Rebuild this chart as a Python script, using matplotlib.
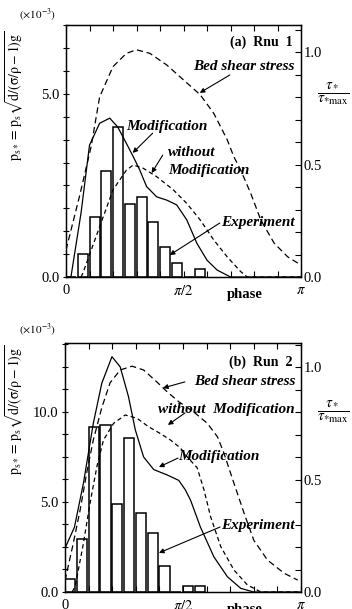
import numpy as np
import matplotlib
matplotlib.use("Agg")
import matplotlib.pyplot as plt
from matplotlib.ticker import MultipleLocator

plt.rcParams['font.family'] = ['Liberation Serif', 'DejaVu Serif']
plt.rcParams['mathtext.fontset'] = 'stix'

PI = np.pi
W, H = 352, 609

# Experiment histograms: bins of width pi/20 starting at phase 0
bin_width = PI / 20
bin_index = np.arange(12)
exp_a = [0, 0.62, 1.65, 2.89, 4.11, 1.99, 2.18, 1.51, 0.82, 0.37, 0, 0.21]
exp_b = [0.74, 2.92, 9.18, 9.30, 4.86, 8.54, 4.41, 3.29, 1.43, 0, 0.33, 0.33]

# Run 1 curves (phase in units of pi)
mod_a_x = [0, 0.021, 0.064, 0.10, 0.143, 0.186, 0.22, 0.257, 0.286, 0.314, 0.343,
           0.386, 0.429, 0.471, 0.514, 0.557, 0.60, 0.643, 0.70, 1.0]
mod_a_y = [0, 0, 1.75, 3.6, 4.20, 4.34, 4.1, 3.65, 3.29, 2.92, 2.47,
           2.19, 2.10, 1.97, 1.56, 0.92, 0.46, 0.19, 0, 0]

wo_a_x = [0.064, 0.0714, 0.143, 0.2, 0.257, 0.286, 0.329, 0.386, 0.457, 0.514,
          0.571, 0.629, 0.686, 0.743, 0.771, 1.0]
wo_a_y = [0, 0.10, 1.37, 2.38, 2.92, 3.06, 2.97, 2.74, 2.38, 2.01,
          1.56, 1.01, 0.55, 0.15, 0, 0]

bed_a_x = [0, 0.057, 0.107, 0.143, 0.2, 0.257, 0.3, 0.357, 0.429, 0.5, 0.571,
           0.629, 0.686, 0.714, 0.743, 0.786, 0.829, 0.886, 0.943, 1.0]
bed_a_y = [0.12, 0.357, 0.58, 0.80, 0.935, 0.994, 1.01, 0.994, 0.942, 0.876, 0.81,
           0.727, 0.61, 0.535, 0.476, 0.372, 0.253, 0.15, 0.09, 0.053]

# Run 2 curves
mod_b_x = [0, 0.04, 0.078, 0.12, 0.156, 0.199, 0.234, 0.269, 0.298, 0.333, 0.376,
           0.433, 0.482, 0.51, 0.532, 0.574, 0.631, 0.688, 0.745, 0.80, 1.0]
mod_b_y = [2.43, 3.6, 6.04, 9.37, 11.6, 13.07, 12.5, 10.85, 9.0, 7.5, 6.8,
           6.5, 6.2, 5.67, 5.1, 3.6, 1.95, 0.85, 0.2, 0, 0]

wo_b_x = [0.03, 0.043, 0.078, 0.106, 0.135, 0.163, 0.206, 0.255, 0.305, 0.354, 0.404,
          0.447, 0.489, 0.518, 0.56, 0.589, 0.617, 0.66, 0.716, 0.773, 0.83, 1.0]
wo_b_y = [0, 0.3, 2.7, 4.93, 6.96, 8.44, 9.37, 9.83, 9.65, 9.18, 8.8,
          8.44, 8.0, 7.5, 6.9, 5.67, 4.18, 2.52, 1.22, 0.39, 0, 0]

bed_b_x = [0, 0.035, 0.064, 0.092, 0.12, 0.156, 0.191, 0.234, 0.284, 0.333, 0.383,
           0.433, 0.482, 0.546, 0.603, 0.646, 0.674, 0.716, 0.759, 0.80, 0.858,
           0.929, 0.986]
bed_b_y = [0.05, 0.216, 0.364, 0.53, 0.676, 0.82, 0.93, 0.987, 1.004, 0.987, 0.94,
           0.89, 0.846, 0.80, 0.75, 0.69, 0.616, 0.483, 0.35, 0.23, 0.142,
           0.083, 0.053]


def px(x, y):
    """pixel position (from top-left) to figure fraction"""
    return x / W, 1 - y / H


def draw_panel(ax, exp, mod, wo, bed, ymax_l, ymax_r, lticks, lminor):
    ax.bar(bin_index * bin_width, exp, width=0.86 * bin_width, align='edge',
           facecolor='white', edgecolor='black', linewidth=1.1, zorder=1)
    ax.plot(np.array(mod[0]) * PI, mod[1], color='black', lw=0.9, zorder=3)
    ax.plot(np.array(wo[0]) * PI, wo[1], color='black', lw=0.9,
            dashes=(3.5, 2.5), zorder=3)
    ax.set_xlim(0, PI)
    ax.set_ylim(0, ymax_l)
    ax.set_yticks(lticks)
    ax.set_yticklabels([f"{t:.1f}" for t in lticks])
    ax.yaxis.set_minor_locator(MultipleLocator(lminor))
    ax.set_xticks([0, PI / 2, PI])
    ax.set_xticklabels(['0', r'$\pi/2$', r'$\pi$'])
    ax.xaxis.set_minor_locator(MultipleLocator(PI / 10))
    ax.tick_params(axis='x', which='both', direction='in', top=True,
                   length=4, width=0.8, labelsize=10.5, pad=5)
    ax.tick_params(axis='y', which='both', direction='inout', length=5,
                   width=0.8, labelsize=10.5, pad=2)
    for s in ax.spines.values():
        s.set_linewidth(1.0)
    ax.text(0.76 * PI, -0.045, 'phase', transform=ax.get_xaxis_transform(),
            ha='center', va='top', fontsize=10.5, fontweight='bold')

    ax2 = ax.twinx()
    ax2.plot(np.array(bed[0]) * PI, bed[1], color='black', lw=0.9,
             dashes=(5, 3), zorder=3)
    ax2.set_ylim(0, ymax_r)
    ax2.set_yticks([0, 0.5, 1.0])
    ax2.set_yticklabels(['0.0', '0.5', '1.0'])
    ax2.yaxis.set_minor_locator(MultipleLocator(0.1))
    ax2.tick_params(axis='y', which='both', direction='in', length=4,
                    width=0.8, labelsize=10.5, pad=2)
    return ax2


fig = plt.figure(figsize=(W / 100, H / 100), dpi=100)

ax_a = fig.add_axes([66 / W, 1 - 277 / H, 235 / W, 252 / H])
draw_panel(ax_a, exp_a, (mod_a_x, mod_a_y), (wo_a_x, wo_a_y),
           (bed_a_x, bed_a_y), 6.885, 1.12, [0, 5], 0.625)

ax_b = fig.add_axes([65 / W, 1 - 592 / H, 236 / W, 249 / H])
draw_panel(ax_b, exp_b, (mod_b_x, mod_b_y), (wo_b_x, wo_b_y),
           (bed_b_x, bed_b_y), 13.83, 1.107, [0, 5, 10], 1.25)

bi = dict(fontsize=11, fontweight='bold', fontstyle='italic')
arrow = dict(arrowstyle='-|>', color='black', lw=0.8,
             mutation_scale=7, shrinkA=0, shrinkB=0)

# panel (a) annotations
ax_a.text(3.035, 6.42, '(a)  Rnu  1', ha='right', va='center',
          fontsize=10, fontweight='bold')
ax_a.text(3.06, 5.74, 'Bed shear stress', ha='right', va='center', **bi)
ax_a.annotate('', xy=(1.788, 5.03), xytext=(2.19, 5.52), arrowprops=arrow)
ax_a.text(1.346, 4.10, 'Modification', ha='center', va='center', **bi)
ax_a.annotate('', xy=(0.891, 3.39), xytext=(1.159, 3.93), arrowprops=arrow)
ax_a.text(1.681, 3.39, 'without', ha='center', va='center', **bi)
ax_a.text(1.909, 2.92, 'Modification', ha='center', va='center', **bi)
ax_a.annotate('', xy=(1.145, 2.84), xytext=(1.293, 3.33), arrowprops=arrow)
ax_a.text(2.565, 1.50, 'Experiment', ha='center', va='center', **bi)
ax_a.annotate('', xy=(1.387, 0.60), xytext=(2.056, 1.475), arrowprops=arrow)

# panel (b) annotations
ax_b.text(0.966 * PI, 12.78, '(b)  Run  2', ha='right', va='center',
          fontsize=10, fontweight='bold')
ax_b.text(0.975 * PI, 11.67, 'Bed shear stress', ha='right', va='center', **bi)
ax_b.annotate('', xy=(0.415 * PI, 11.33), xytext=(0.508 * PI, 11.67),
              arrowprops=arrow)
ax_b.text(0.975 * PI, 10.11, 'without  Modification', ha='right',
          va='center', **bi)
ax_b.annotate('', xy=(0.436 * PI, 9.28), xytext=(0.508 * PI, 9.94),
              arrowprops=arrow)
ax_b.text(0.6525 * PI, 7.5, 'Modification', ha='center', va='center', **bi)
ax_b.annotate('', xy=(0.398 * PI, 6.94), xytext=(0.479 * PI, 7.44),
              arrowprops=arrow)
ax_b.text(0.818 * PI, 3.72, 'Experiment', ha='center', va='center', **bi)
ax_b.annotate('', xy=(0.398 * PI, 2.17), xytext=(0.657 * PI, 3.61),
              arrowprops=arrow)

# outer labels
ylab = r'$\mathrm{p_{s*}=\,p_s\sqrt{d/(\sigma/\rho-1)g}}$'
tau = r'$\dfrac{\tau_*}{\tau_{*\mathrm{max}}}$'
for yc, ys, yt in [(96, 15, 94), (410, 330, 412)]:
    fig.text(*px(15, yc), ylab, rotation=90, ha='center', va='center',
             fontsize=10)
    fig.text(*px(38, ys), r'$(\times10^{-3})$', ha='center', va='center',
             fontsize=8)
    fig.text(*px(333, yt), tau, ha='center', va='center', fontsize=11)

fig.savefig('out.png', dpi=100)
